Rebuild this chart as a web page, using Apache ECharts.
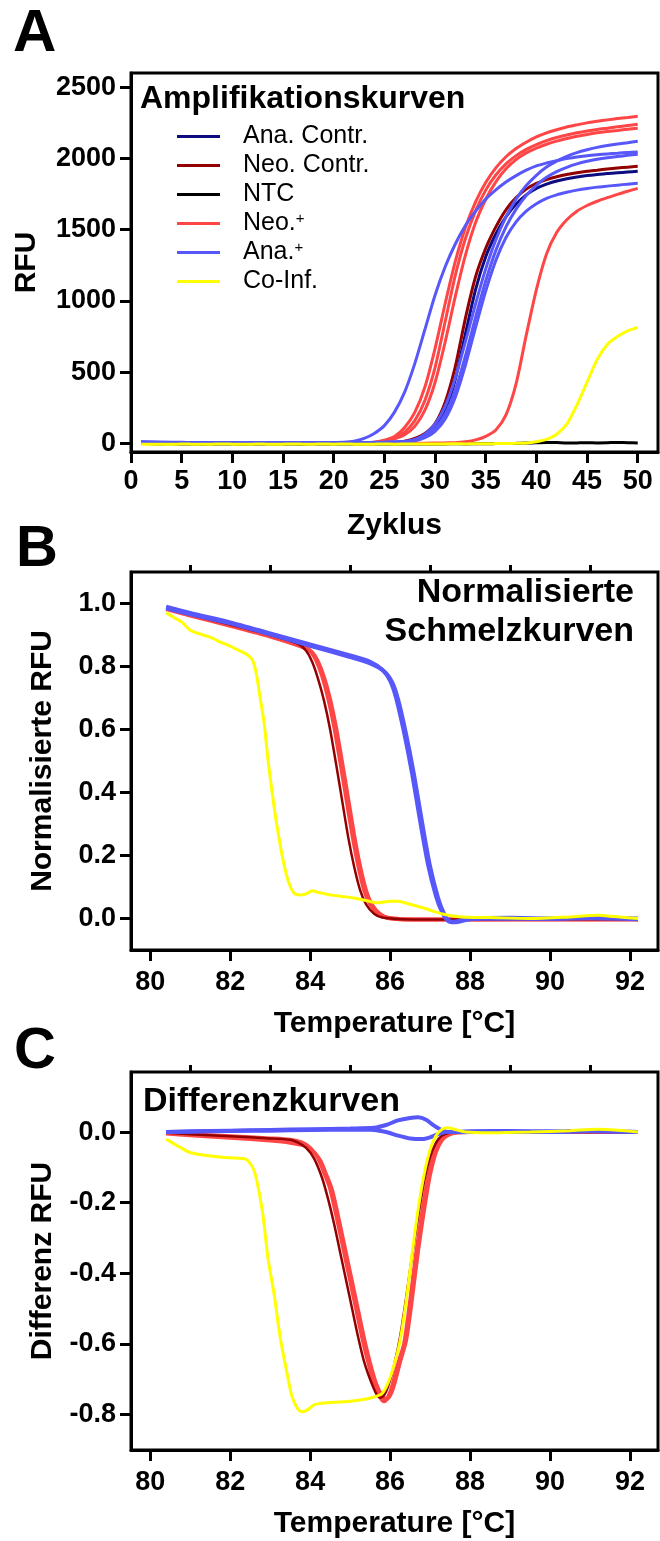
<!DOCTYPE html>
<html lang="de">
<head>
<meta charset="UTF-8">
<title>Amplifikation / Schmelzkurven</title>
<script src="https://cdn.jsdelivr.net/npm/echarts@6/dist/echarts.min.js"></script>
<style>
    html, body { margin: 0; padding: 0; background: #fff; }
    #chart { width: 660px; height: 1541px; }
</style>
</head>
<body>
<div id="chart"></div>
<script>
// ---- A: Amplifikationskurven (RFU pro Zyklus) ----
var cycles = [1,2,3,4,5,6,7,8,9,10,11,12,13,14,15,16,17,18,19,20,21,22,23,24,25,
              26,27,28,29,30,31,32,33,34,35,36,37,38,39,40,41,42,43,44,45,46,47,48,49,50];

var ampAnaContr = [3,2,2,1,1,0,0,1,0,0,0,0,1,0,0,0,1,0,0,0,1,1,2,3,4,6,
    10,25,55,110,230,450,770,1080,1310,1470,1590,1680,1745,1790,1820,1842,1858,1870,1880,1888,1895,1900,1905,1910];
var ampNeoContr = [2,1,1,0,0,0,1,0,0,-1,0,0,0,1,0,0,0,0,1,0,1,1,2,2,3,
    5,15,35,70,140,290,540,880,1170,1370,1520,1640,1725,1785,1825,1852,1872,1888,1900,1910,1918,1926,1933,1939,1945];
var ampNTC = [0,-2,-3,-2,-4,-3,-5,-4,-3,-4,-5,-4,-3,-4,-3,-4,-5,-4,-3,-3,-4,-3,-3,-4,-3,
    -4,-3,-3,-4,-3,-3,-2,-3,-2,-2,-1,0,1,3,5,7,6,3,4,5,4,5,7,5,4];
var ampNeo1 = [1,0,0,-1,0,0,0,1,0,0,0,0,0,1,0,0,0,1,1,2,2,3,
    3,9,23,49,112,218,396,666,982,1278,1516,1696,1832,1934,2012,2070,2114,2151,2180,2202,2221,2236,2250,2261,2271,2280,2288,2296];
var ampNeo2 = [0,0,1,0,0,-1,0,0,0,1,0,0,0,0,1,0,0,0,1,1,2,3,4,6,
    19,40,80,160,302,532,856,1180,1438,1632,1778,1884,1962,2020,2064,2098,2125,2147,2165,2180,2193,2204,2213,2222,2231,2240];
var ampNeo3 = [1,1,0,0,0,0,1,0,0,0,0,1,0,0,0,0,1,0,1,1,1,2,3,5,
    15,32,61,120,234,428,712,1032,1322,1550,1714,1836,1928,1993,2039,2073,2100,2122,2140,2156,2169,2180,2189,2197,2205,2212];
var ampNeo4 = [0,0,-1,0,0,0,1,0,0,0,-1,0,0,0,0,1,0,0,0,0,0,1,0,0,1,1,1,2,2,3,4,
    5,12,25,50,95,200,420,760,1080,1330,1480,1570,1630,1670,1700,1725,1748,1770,1790];
var ampAna1 = [12,10,9,8,8,7,7,6,6,5,5,6,5,5,5,6,5,6,6,7,
    8,15,35,70,125,220,360,560,800,1040,1240,1400,1530,1630,1715,1780,1835,1880,1918,1948,1968,1985,2000,2010,2019,2026,2032,2037,2042,2046];
var ampAna2 = [10,9,8,7,7,6,6,5,5,5,4,4,4,5,4,4,4,5,5,5,6,6,7,8,9,11,
    13,28,65,135,260,460,715,980,1225,1430,1590,1715,1810,1882,1940,1982,2015,2041,2061,2078,2091,2102,2111,2121];
var ampAna3 = [9,8,7,6,6,5,5,5,4,4,4,4,3,4,4,4,3,4,4,4,5,5,6,7,8,10,12,
    22,50,105,205,375,615,885,1140,1355,1520,1645,1740,1812,1868,1908,1938,1962,1980,1994,2005,2014,2022,2030];
var ampAna4 = [8,7,7,6,5,5,5,4,4,4,3,3,3,3,4,3,3,3,4,4,4,5,5,6,7,9,11,
    19,40,85,172,325,550,815,1070,1285,1445,1555,1630,1682,1720,1745,1763,1778,1790,1799,1806,1813,1820,1826];
var ampCoInf = [-6,-5,-5,-6,-4,-5,-6,-5,-4,-5,-6,-5,-4,-6,-5,-4,-5,-5,-4,-5,-4,-5,-6,-5,-4,-5,-4,-3,-4,-3,-3,-2,-3,-2,-2,-1,0,1,
    3,12,28,65,135,270,430,590,695,750,790,815];

// ---- B: Normalisierte Schmelzkurven [Temperatur, RFU] ----
var meltAna1 = [[80.4,0.99],[81,0.97],[82,0.94],[83,0.905],[84,0.87],[85,0.835],[85.5,0.815],[85.8,0.79],[86.0,0.755],
    [86.15,0.70],[86.35,0.59],[86.55,0.46],[86.75,0.31],[86.95,0.17],[87.15,0.07],[87.3,0.02],[87.45,-0.008],[87.6,-0.01],
    [88,0.0],[89,0.002],[90,0.0],[91,0.003],[92.2,0.0]];
var meltAna2 = [[80.4,0.985],[81,0.966],[82,0.937],[83,0.902],[84,0.866],[85,0.83],[85.5,0.81],[85.85,0.785],[86.05,0.75],
    [86.2,0.695],[86.4,0.585],[86.6,0.455],[86.8,0.305],[87.0,0.165],[87.2,0.065],[87.35,0.015],[87.5,-0.01],[87.65,-0.012],
    [88,-0.002],[89,0.0],[90,-0.001],[91,0.001],[92.2,-0.002]];
var meltNeoContr = [[80.4,0.985],[81,0.965],[82,0.933],[83,0.9],[83.7,0.872],[83.9,0.85],[84.05,0.815],[84.2,0.76],
    [84.35,0.69],[84.5,0.60],[84.65,0.49],[84.8,0.375],[84.95,0.26],[85.1,0.165],[85.25,0.09],[85.4,0.045],[85.6,0.015],
    [85.8,0.003],[86.3,-0.002],[88,-0.003],[90,-0.002],[92.2,-0.002]];
var meltNeo1 = [[80.4,0.985],[81,0.965],[82,0.932],[83,0.898],[83.8,0.865],[84.0,0.85],[84.15,0.82],[84.3,0.77],
    [84.45,0.70],[84.6,0.61],[84.75,0.50],[84.9,0.385],[85.05,0.27],[85.2,0.17],[85.35,0.09],[85.5,0.045],[85.7,0.015],
    [85.9,0.003],[86.3,-0.002],[88,-0.003],[90,-0.002],[92.2,-0.002]];
var meltNeo2 = [[80.4,0.982],[81,0.962],[82,0.929],[83,0.895],[83.85,0.86],[84.05,0.845],[84.2,0.815],[84.35,0.765],
    [84.5,0.695],[84.65,0.605],[84.8,0.495],[84.95,0.38],[85.1,0.265],[85.25,0.165],[85.4,0.088],[85.55,0.043],[85.75,0.014],
    [85.95,0.002],[86.4,-0.003],[88,-0.003],[90,-0.003],[92.2,-0.003]];
var meltCoInf = [[80.4,0.971],[80.6,0.955],[80.8,0.94],[81.0,0.915],[81.2,0.905],[81.5,0.893],[81.8,0.875],[82.0,0.865],
    [82.2,0.852],[82.4,0.84],[82.55,0.822],[82.65,0.78],[82.75,0.70],[82.85,0.62],[82.95,0.50],[83.05,0.40],[83.15,0.31],
    [83.3,0.2],[83.45,0.12],[83.6,0.08],[83.75,0.075],[83.9,0.078],[84.05,0.088],[84.2,0.083],[84.5,0.075],[84.8,0.07],
    [85.1,0.065],[85.4,0.057],[85.7,0.05],[86.0,0.055],[86.2,0.055],[86.5,0.045],[86.8,0.035],[87.1,0.022],[87.4,0.012],
    [87.8,0.005],[88.5,0.003],[89.5,0.0],[90.5,0.005],[91.2,0.01],[91.6,0.006],[92.2,0.0]];

// ---- C: Differenzkurven [Temperatur, Differenz RFU] ----
var diffAnaUp = [[80.4,0.0],[81,0.002],[82,0.004],[83,0.006],[84,0.008],[85,0.01],[85.6,0.012],[85.9,0.02],[86.2,0.033],
    [86.5,0.04],[86.7,0.042],[86.9,0.035],[87.1,0.018],[87.3,0.005],[87.5,0.0],[88,0.002],[89,0.003],[90,0.002],[91,0.004],[92.2,0.0]];
var diffAnaLow = [[80.4,0.0],[81,0.001],[82,0.003],[83,0.004],[84,0.006],[85,0.007],[85.6,0.006],[85.9,0.0],[86.2,-0.01],
    [86.5,-0.018],[86.8,-0.02],[87.0,-0.015],[87.2,-0.006],[87.4,0.0],[88,0.0],[89,0.001],[90,0.0],[91,0.002],[92.2,0.0]];
var diffNeoContr = [[80.4,-0.002],[81,-0.006],[82,-0.012],[83,-0.018],[83.5,-0.022],[83.7,-0.03],[83.9,-0.045],[84.1,-0.075],
    [84.3,-0.13],[84.45,-0.19],[84.6,-0.26],[84.75,-0.34],[84.9,-0.42],[85.05,-0.50],[85.2,-0.58],[85.35,-0.65],[85.5,-0.70],
    [85.65,-0.74],[85.75,-0.752],[85.85,-0.745],[85.95,-0.72],[86.1,-0.66],[86.25,-0.58],[86.4,-0.47],[86.55,-0.35],
    [86.7,-0.24],[86.85,-0.14],[87.0,-0.07],[87.15,-0.03],[87.3,-0.01],[87.5,-0.002],[88,0],[92.2,0]];
var diffNeo1 = [[80.4,-0.002],[81,-0.006],[82,-0.012],[83,-0.018],[83.5,-0.022],[83.8,-0.03],[84.0,-0.045],[84.2,-0.075],
    [84.35,-0.115],[84.5,-0.16],[84.7,-0.26],[84.85,-0.34],[85.0,-0.42],[85.15,-0.50],[85.3,-0.58],[85.45,-0.65],[85.6,-0.71],
    [85.75,-0.75],[85.85,-0.762],[85.95,-0.75],[86.05,-0.72],[86.2,-0.655],[86.35,-0.60],[86.5,-0.48],[86.65,-0.345],
    [86.8,-0.23],[86.95,-0.13],[87.1,-0.06],[87.25,-0.025],[87.4,-0.01],[87.6,-0.002],[88,0.0],[90,0.0],[92.2,0.0]];
var diffNeo2 = [[80.4,-0.004],[81,-0.009],[82,-0.016],[83,-0.024],[83.5,-0.03],[83.85,-0.038],[84.05,-0.052],[84.25,-0.08],
    [84.4,-0.12],[84.55,-0.165],[84.75,-0.265],[84.9,-0.345],[85.05,-0.425],[85.2,-0.505],[85.35,-0.585],[85.5,-0.655],
    [85.65,-0.712],[85.8,-0.748],[85.9,-0.756],[86.0,-0.745],[86.1,-0.715],[86.25,-0.65],[86.4,-0.59],[86.55,-0.47],
    [86.7,-0.335],[86.85,-0.22],[87.0,-0.12],[87.15,-0.055],[87.3,-0.022],[87.45,-0.008],[87.65,-0.001],[88,0.0],[90,0.0],[92.2,0.0]];
var diffCoInf = [[80.4,-0.02],[80.7,-0.04],[81.0,-0.058],[81.5,-0.068],[82.0,-0.073],[82.4,-0.077],[82.6,-0.11],[82.8,-0.22],
    [82.95,-0.36],[83.1,-0.46],[83.25,-0.58],[83.4,-0.67],[83.55,-0.75],[83.7,-0.785],[83.8,-0.792],[83.95,-0.785],[84.1,-0.772],
    [84.25,-0.768],[84.6,-0.765],[85.0,-0.762],[85.3,-0.758],[85.6,-0.75],[85.8,-0.74],[85.95,-0.71],[86.1,-0.66],[86.25,-0.59],
    [86.4,-0.48],[86.55,-0.345],[86.7,-0.22],[86.85,-0.12],[87.0,-0.05],[87.15,-0.01],[87.3,0.008],[87.45,0.012],[87.6,0.008],
    [87.9,0.0],[88.5,-0.002],[89.5,0.0],[90.5,0.004],[91.2,0.008],[91.7,0.005],[92.2,0.0]];

// Achsenbeschriftung
var cycleTicks = [0,5,10,15,20,25,30,35,40,45,50];
var rfuTicks = [0,500,1000,1500,2000,2500];
var tempTicks = [80,82,84,86,88,90,92];
var tempMinorTicks = [81,83,85,87,89,91];
var normTicks = [0,0.2,0.4,0.6,0.8,1.0];
var diffTicks = [-0.8,-0.6,-0.4,-0.2,0];

var legendNames = ['Ana. Contr.', 'Neo. Contr.', 'NTC', 'Neo.+', 'Ana.+', 'Co-Inf.'];

var FONT = '"Liberation Sans", Arial, Helvetica, sans-serif';
var cNavy = '#0c0c7e', cDarkRed = '#920000', cBlack = '#000000',
    cRed = '#ff4646', cBlue = '#5757fa', cYellow = '#ffff00';

var chart = echarts.init(document.getElementById('chart'));

function pairs(xs, ys) {
    return xs.map(function (x, i) { return [x, ys[i]]; });
}

function line(name, color, data, axis, width) {
    return {
        name: name,
        type: 'line',
        xAxisIndex: axis[0],
        yAxisIndex: axis[1],
        data: data,
        showSymbol: false,
        smooth: 0.25,
        color: color,
        lineStyle: { color: color, width: width },
        emphasis: { disabled: true },
        animation: false
    };
}

function xAxisFor(grid, min, max, labels, name, margin) {
    return {
        type: 'value', gridIndex: grid, min: min, max: max,
        name: name, nameLocation: 'middle', nameGap: 59,
        nameTextStyle: { fontFamily: FONT, fontWeight: 'bold', fontSize: 30, color: '#000' },
        axisLine: { show: true, onZero: false, lineStyle: { color: '#000', width: 3 } },
        axisTick: { show: true, length: 11, lineStyle: { color: '#000', width: 3 }, customValues: labels },
        axisLabel: { fontFamily: FONT, fontWeight: 'bold', fontSize: 27, color: '#000', margin: margin, customValues: labels },
        splitLine: { show: false }
    };
}

function minorAxisFor(grid, min, max) {
    return {
        type: 'value', gridIndex: grid, min: min, max: max,
        axisLine: { show: false, onZero: false },
        axisTick: { show: true, length: 7, lineStyle: { color: '#000', width: 3 }, customValues: tempMinorTicks },
        axisLabel: { show: false },
        splitLine: { show: false }
    };
}

function yAxisFor(grid, min, max, labels, name, nameGap, fmt) {
    return {
        type: 'value', gridIndex: grid, min: min, max: max,
        name: name, nameLocation: 'middle', nameGap: nameGap,
        nameTextStyle: { fontFamily: FONT, fontWeight: 'bold', fontSize: 30, color: '#000' },
        axisLine: { show: true, onZero: false, lineStyle: { color: '#000', width: 3 } },
        axisTick: { show: true, length: 11, lineStyle: { color: '#000', width: 3 }, customValues: labels },
        axisLabel: { fontFamily: FONT, fontWeight: 'bold', fontSize: 27, color: '#000', margin: 15,
            customValues: labels, formatter: fmt },
        splitLine: { show: false }
    };
}

var gridStyle = { show: true, borderColor: '#000', borderWidth: 3, backgroundColor: 'transparent' };

var A = [0, 0], B = [1, 1], C = [3, 2];

var option = {
    backgroundColor: '#fff',
    animation: false,
    grid: [
        Object.assign({ left: 131, top: 73, width: 527, height: 379 }, gridStyle),
        Object.assign({ left: 131, top: 572, width: 527, height: 378 }, gridStyle),
        Object.assign({ left: 131, top: 1072, width: 527, height: 378 }, gridStyle)
    ],
    xAxis: [
        xAxisFor(0, 0, 52, cycleTicks, 'Zyklus', 16),
        xAxisFor(1, 79.52, 92.7, tempTicks, 'Temperature [°C]', 19),
        minorAxisFor(1, 79.52, 92.7),
        xAxisFor(2, 79.52, 92.7, tempTicks, 'Temperature [°C]', 19),
        minorAxisFor(2, 79.52, 92.7)
    ],
    yAxis: [
        yAxisFor(0, -60, 2600, rfuTicks, 'RFU', 89, function (v) { return String(v); }),
        yAxisFor(1, -0.1, 1.1, normTicks, 'Normalisierte RFU', 73, function (v) { return v.toFixed(1); }),
        yAxisFor(2, -0.9, 0.17, diffTicks, 'Differenz RFU', 73, function (v) { return v.toFixed(1); })
    ],
    legend: {
        orient: 'vertical',
        left: 177,
        top: 124,
        padding: 0,
        itemWidth: 43,
        itemHeight: 3,
        itemGap: 4,
        icon: 'rect',
        selectedMode: false,
        data: legendNames,
        formatter: function (name) {
            if (name.charAt(name.length - 1) === '+') {
                return '{n|' + name.slice(0, -1) + '}{s|+}';
            }
            return '{n|' + name + '}';
        },
        textStyle: {
            fontFamily: FONT, fontSize: 25, color: '#000', padding: [0, 0, 0, 18],
            rich: {
                n: { fontFamily: FONT, fontSize: 25, lineHeight: 25, color: '#000' },
                s: { fontFamily: FONT, fontSize: 15, lineHeight: 25, color: '#000', verticalAlign: 'top' }
            }
        }
    },
    graphic: [
        { type: 'text', x: 13, y: 34, style: { text: 'A', fontFamily: FONT, fontWeight: 'bold', fontSize: 60, fill: '#000', verticalAlign: 'middle' } },
        { type: 'text', x: 16, y: 550, style: { text: 'B', fontFamily: FONT, fontWeight: 'bold', fontSize: 58, fill: '#000', verticalAlign: 'middle' } },
        { type: 'text', x: 14, y: 1052, style: { text: 'C', fontFamily: FONT, fontWeight: 'bold', fontSize: 58, fill: '#000', verticalAlign: 'middle' } },
        { type: 'text', x: 140, y: 99, style: { text: 'Amplifikationskurven', fontFamily: FONT, fontWeight: 'bold', fontSize: 32, fill: '#000', verticalAlign: 'middle' } },
        { type: 'text', x: 634, y: 593, style: { text: 'Normalisierte', fontFamily: FONT, fontWeight: 'bold', fontSize: 34, fill: '#000', align: 'right', verticalAlign: 'middle' } },
        { type: 'text', x: 634, y: 632, style: { text: 'Schmelzkurven', fontFamily: FONT, fontWeight: 'bold', fontSize: 34, fill: '#000', align: 'right', verticalAlign: 'middle' } },
        { type: 'text', x: 143, y: 1102, style: { text: 'Differenzkurven', fontFamily: FONT, fontWeight: 'bold', fontSize: 34, fill: '#000', verticalAlign: 'middle' } }
    ],
    series: [
        // A
        line('NTC', cBlack, pairs(cycles, ampNTC), A, 3),
        line('Neo. Contr.', cDarkRed, pairs(cycles, ampNeoContr), A, 3),
        line('Neo.+', cRed, pairs(cycles, ampNeo1), A, 3),
        line('Neo.+', cRed, pairs(cycles, ampNeo2), A, 3),
        line('Neo.+', cRed, pairs(cycles, ampNeo3), A, 3),
        line('Neo.+', cRed, pairs(cycles, ampNeo4), A, 3),
        line('Ana. Contr.', cNavy, pairs(cycles, ampAnaContr), A, 3),
        line('Ana.+', cBlue, pairs(cycles, ampAna1), A, 3),
        line('Ana.+', cBlue, pairs(cycles, ampAna2), A, 3),
        line('Ana.+', cBlue, pairs(cycles, ampAna3), A, 3),
        line('Ana.+', cBlue, pairs(cycles, ampAna4), A, 3),
        line('Co-Inf.', cYellow, pairs(cycles, ampCoInf), A, 3),
        // B
        line('Neo.+', cRed, meltNeo1, B, 4),
        line('Neo.+', cRed, meltNeo2, B, 4),
        line('Neo. Contr.', cDarkRed, meltNeoContr, B, 2.5),
        line('Ana.+', cBlue, meltAna1, B, 4),
        line('Ana.+', cBlue, meltAna2, B, 4),
        line('Co-Inf.', cYellow, meltCoInf, B, 3),
        // C
        line('Neo.+', cRed, diffNeo1, C, 4),
        line('Neo.+', cRed, diffNeo2, C, 4),
        line('Neo. Contr.', cDarkRed, diffNeoContr, C, 2.5),
        line('Ana.+', cBlue, diffAnaUp, C, 4),
        line('Ana.+', cBlue, diffAnaLow, C, 4),
        line('Co-Inf.', cYellow, diffCoInf, C, 3)
    ]
};

chart.setOption(option);
</script>
</body>
</html>
